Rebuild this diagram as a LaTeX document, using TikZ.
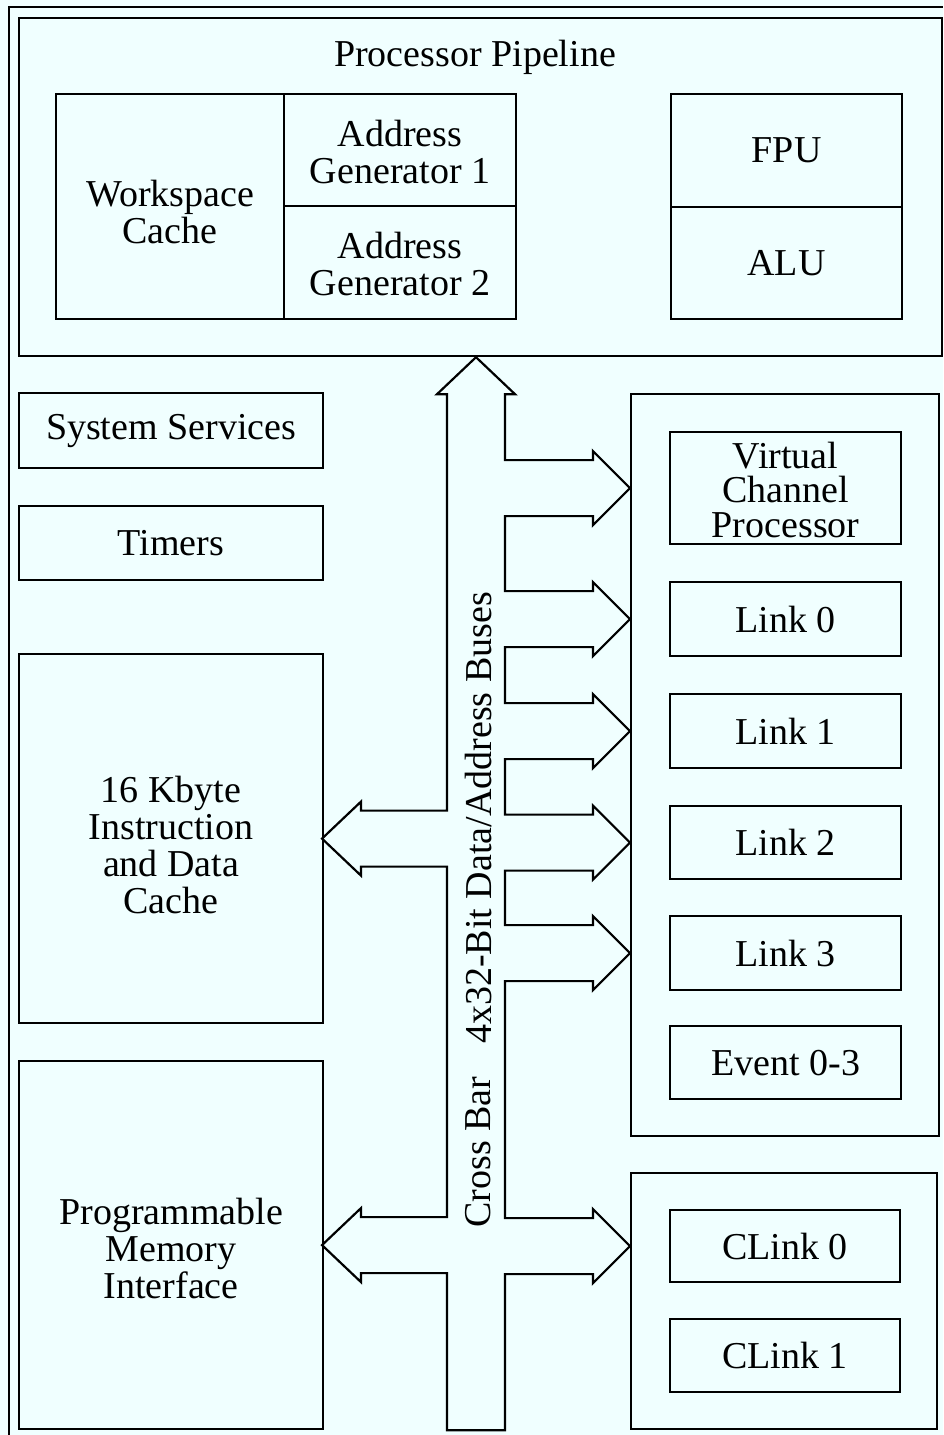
\documentclass[tikz,border=0pt]{standalone}
\usepackage{fontspec}
\setmainfont{Liberation Serif}
\usetikzlibrary{calc}
\definecolor{paper}{RGB}{240,255,255}
\newcommand\lbl{\fontsize{38}{37}\selectfont}
\newcommand\lbltight{\fontsize{38}{34.5}\selectfont}
% invisible strut that lowers a multi-line label a little
\newcommand\lift[1]{\rule{0pt}{#1pt}}
% block: name, left, top, right, bottom, text
\newcommand\blk[6]{\node[box,minimum width={#4pt-#2pt},minimum height={#5pt-#3pt}] (#1) at (#2,#3) {#6};}
\begin{document}
\begin{tikzpicture}[x=1pt,y=-1pt,line width=2.2pt,
  box/.style={draw,line width=2.2pt,inner sep=0pt,align=center,font=\lbl,anchor=north west},
  buslabel/.style={rotate=90,font=\lbl,inner sep=0pt}]
\fill[paper] (0,0) rectangle (943,1435);
\useasboundingbox (0,0) rectangle (943,1435);
% outer frame
\draw (9,1435) -- (9,7) -- (943,7);

% processor pipeline
\blk{pipe}{18}{17}{941}{355}{}
\node[font=\lbl,inner sep=0pt] (title) at (475,57) {Processor Pipeline};
\blk{ws}{55}{93}{283}{318}{\lift{38}Workspace\\Cache}
\blk{ag1}{283}{93}{515}{205}{\lift{30}Address\\Generator 1}
\blk{ag2}{283}{205}{515}{318}{\lift{30}Address\\Generator 2}
\blk{fpu}{670}{93}{901}{206}{FPU}
\blk{alu}{670}{206}{901}{318}{ALU}

% left column
\blk{sys}{18}{392}{322}{467}{System Services}
\blk{tim}{18}{505}{322}{579}{Timers}
\blk{cache}{18}{653}{322}{1022}{\lift{40}16 Kbyte\\Instruction\\and Data\\Cache}
\blk{pmi}{18}{1060}{322}{1428}{\lift{34}Programmable\\Memory\\Interface}

% right column
\blk{linkbox}{630}{393}{938}{1135}{}
\node[box,font=\lbltight,minimum width=231pt,minimum height=112pt] (vcp) at (669,431) {\lift{30}Virtual\\Channel\\Processor};
\blk{link0}{669}{581}{900}{655}{Link 0}
\blk{link1}{669}{693}{900}{767}{Link 1}
\blk{link2}{669}{805}{900}{878}{Link 2}
\blk{link3}{669}{915}{900}{989}{Link 3}
\blk{evt}{669}{1025}{900}{1098}{Event 0-3}
\blk{clinkbox}{630}{1172}{936}{1428}{}
\blk{clink0}{669}{1209}{899}{1281}{CLink 0}
\blk{clink1}{669}{1318}{899}{1391}{CLink 1}

% cross bar outline
\path (476,0) coordinate (busx) (505,0) coordinate (shR) (447,0) coordinate (shL);
\coordinate (bt) at (pipe.south -| busx);
\draw[line join=miter]
  (bt) -- ++(39,37) -- ++(-10,0)
  \foreach \n in {vcp,link0,link1,link2,link3,clink0}{
    -- ($(shR |- \n)+(0,-28)$) -- ++(88,0) -- ++(0,-9) -- ++(37,37)
    -- ++(-37,37) -- ++(0,-9) -- ++(-88,0)
  }
  -- (shR |- pmi.south) -- (shL |- pmi.south)
  \foreach \n in {pmi,cache}{
    -- ($(shL |- \n)+(0,28)$) -- ++(-86,0) -- ++(0,9) -- ++(-39,-37)
    -- ++(39,-37) -- ++(0,9) -- ++(86,0)
  }
  -- ($(bt)+(-29,37)$) -- ($(bt)+(-39,37)$) -- cycle;

\node[buslabel] (buslbl) at (478,818) {4x32-Bit Data/Address Buses};
\node[buslabel] (xbar) at (478,1152) {Cross Bar};
\end{tikzpicture}
\end{document}
